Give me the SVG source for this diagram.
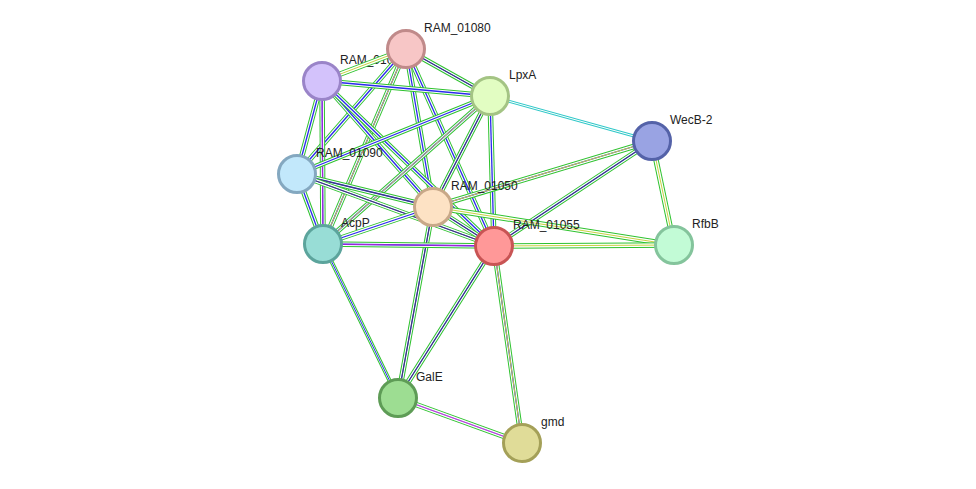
<svg xmlns="http://www.w3.org/2000/svg" xmlns:xlink="http://www.w3.org/1999/xlink" width="976" height="489" viewBox="0 0 976 489">
<style>
.g{stroke:#2ec22e;stroke-width:5.5;fill:none}
.w{stroke:#fff;stroke-width:3.5;fill:none}
.b{stroke:#2a2aee;stroke-width:1.3;fill:none}
.k{stroke:#444;stroke-width:0.8;fill:none}
.y{stroke:#c8d040;stroke-width:1;fill:none}
.n circle{stroke-width:3}
text{font-family:"Liberation Sans",Arial,sans-serif;font-size:12px;fill:#222}
</style>
<defs>
<path id="e1" d="M406,49L322,81"/><path id="e2" d="M406,49L490,96"/><path id="e3" d="M406,49L297,174"/><path id="e4" d="M406,49L323,244"/><path id="e5" d="M406,49L433,207"/><path id="e6" d="M406,49L494,246"/>
<path id="e7" d="M322,81L490,96"/><path id="e8" d="M322,81L297,174"/><path id="e9" d="M322,81L323,244"/><path id="e10" d="M322,81L433,207"/><path id="e11" d="M322,81L494,246"/>
<path id="e12" d="M490,96L652,141"/><path id="e13" d="M490,96L297,174"/><path id="e14" d="M490,96L323,244"/><path id="e15" d="M490,96L433,207"/><path id="e16" d="M490,96L494,246"/>
<path id="e17" d="M652,141L433,207"/><path id="e18" d="M652,141L494,246"/><path id="e19" d="M652,141L674,245"/>
<path id="e20" d="M297,174L433,207"/><path id="e21" d="M297,174L494,246"/><path id="e22" d="M297,174L323,244"/>
<path id="e23" d="M433,207L323,244"/><path id="e24" d="M433,207L494,246"/><path id="e25" d="M433,207L398,398"/><path id="e26" d="M433,207L674,245"/>
<path id="e27" d="M323,244L494,246"/><path id="e28" d="M323,244L398,398"/>
<path id="e29" d="M494,246L674,245"/><path id="e30" d="M494,246L398,398"/><path id="e31" d="M494,246L522,443"/><path id="e32" d="M398,398L522,443"/>
</defs>
<rect width="976" height="489" fill="#fff"/>
<g id="labels-under"><text x="340" y="64">RAM_01085</text></g>
<g id="connectors">
<use href="#e1" class="g"/><use href="#e1" class="w"/><use href="#e1" class="y"/>
<use href="#e2" class="g"/><use href="#e2" class="w"/><use href="#e2" class="b"/><use href="#e2" class="k"/>
<use href="#e3" class="g"/><use href="#e3" class="w"/><use href="#e3" class="b"/>
<use href="#e4" class="g"/><use href="#e4" class="w"/><use href="#e4" class="b"/><use href="#e4" class="y"/>
<use href="#e5" class="g"/><use href="#e5" class="w"/><use href="#e5" class="b"/>
<use href="#e6" class="g"/><use href="#e6" class="w"/><use href="#e6" class="b"/>
<use href="#e7" class="g"/><use href="#e7" class="w"/><use href="#e7" class="b"/>
<use href="#e8" class="g"/><use href="#e8" class="w"/><use href="#e8" class="b"/>
<use href="#e9" class="g"/><use href="#e9" class="w"/><use href="#e9" class="b"/><use href="#e9" class="k" style="stroke:#d020d0"/>
<use href="#e10" class="g"/><use href="#e10" class="w"/><use href="#e10" class="b"/>
<use href="#e11" class="g"/><use href="#e11" class="w"/><use href="#e11" class="b"/>
<use href="#e12" class="g" style="stroke:#30c8c8;stroke-width:3"/><use href="#e12" class="w" style="stroke-width:1"/>
<use href="#e13" class="g"/><use href="#e13" class="w"/><use href="#e13" class="b"/>
<use href="#e14" class="g"/><use href="#e14" class="w"/><use href="#e14" class="b"/><use href="#e14" class="y"/>
<use href="#e15" class="g"/><use href="#e15" class="w"/><use href="#e15" class="b"/><use href="#e15" class="k"/>
<use href="#e16" class="g"/><use href="#e16" class="w"/><use href="#e16" class="b"/>
<use href="#e17" class="g"/><use href="#e17" class="w"/><use href="#e17" class="b"/><use href="#e17" class="y"/>
<use href="#e18" class="g"/><use href="#e18" class="w"/><use href="#e18" class="b"/><use href="#e18" class="k"/>
<use href="#e19" class="g"/><use href="#e19" class="w"/><use href="#e19" class="y"/>
<use href="#e20" class="g"/><use href="#e20" class="w"/><use href="#e20" class="b"/><use href="#e20" class="k"/>
<use href="#e21" class="g"/><use href="#e21" class="w"/><use href="#e21" class="b"/><use href="#e21" class="k"/>
<use href="#e22" class="g"/><use href="#e22" class="w"/><use href="#e22" class="b"/>
<use href="#e23" class="g"/><use href="#e23" class="w"/><use href="#e23" class="b"/>
<use href="#e24" class="g"/><use href="#e24" class="w"/><use href="#e24" class="b"/><use href="#e24" class="k"/>
<use href="#e25" class="g"/><use href="#e25" class="w"/><use href="#e25" class="b"/><use href="#e25" class="k"/>
<use href="#e26" class="g"/><use href="#e26" class="w"/><use href="#e26" class="y"/>
<use href="#e27" class="g"/><use href="#e27" class="w"/><use href="#e27" class="b"/><use href="#e27" class="k" style="stroke:#d020d0"/>
<use href="#e28" class="g" style="stroke-width:4"/><use href="#e28" class="w" style="stroke-width:2"/><use href="#e28" class="b" style="stroke-width:1"/>
<use href="#e29" class="g"/><use href="#e29" class="w"/><use href="#e29" class="y"/>
<use href="#e30" class="g"/><use href="#e30" class="w"/><use href="#e30" class="b"/><use href="#e30" class="k"/>
<use href="#e31" class="g"/><use href="#e31" class="w"/><use href="#e31" class="b"/><use href="#e31" class="y"/>
<use href="#e32" class="g"/><use href="#e32" class="w"/><use href="#e32" class="b" style="stroke:#9090f0"/><use href="#e32" class="k" style="stroke:#d020d0"/>
</g>
<g class="n">
<g id="RAM_01080"><circle cx="406" cy="49" r="18.5" fill="#f7c6c6" stroke="#c08a8a"/><text x="424" y="32">RAM_01080</text></g>
<g id="RAM_01085"><circle cx="322" cy="81" r="18.5" fill="#d3c2fb" stroke="#9a84c8"/></g>
<g id="LpxA"><circle cx="490" cy="96" r="18.5" fill="#e2fdc2" stroke="#a4c484"/><text x="509" y="79">LpxA</text></g>
<g id="WecB-2"><circle cx="652" cy="141" r="18.5" fill="#99a3e3" stroke="#5462a8"/><text x="670" y="124">WecB-2</text></g>
<g id="RAM_01090"><circle cx="297" cy="174" r="18.5" fill="#c2e8fb" stroke="#84a8c0"/><text x="316" y="157">RAM_01090</text></g>
<g id="RAM_01050"><circle cx="433" cy="207" r="18.5" fill="#fde2c4" stroke="#c8a888"/><text x="451" y="190">RAM_01050</text></g>
<g id="AcpP"><circle cx="323" cy="244" r="18.5" fill="#98ddd6" stroke="#5ca49c"/><text x="341" y="227">AcpP</text></g>
<g id="RAM_01055"><circle cx="494" cy="246" r="18.5" fill="#ff9898" stroke="#c85454"/><text x="513" y="229">RAM_01055</text></g>
<g id="RfbB"><circle cx="674" cy="245" r="18.5" fill="#c2fbd6" stroke="#84c49c"/><text x="692" y="228">RfbB</text></g>
<g id="GalE"><circle cx="398" cy="398" r="18.5" fill="#9ddd92" stroke="#5e9c56"/><text x="416" y="381">GalE</text></g>
<g id="gmd"><circle cx="522" cy="443" r="18.5" fill="#e0dc98" stroke="#a4a058"/><text x="541" y="426">gmd</text></g>
</g>
</svg>
